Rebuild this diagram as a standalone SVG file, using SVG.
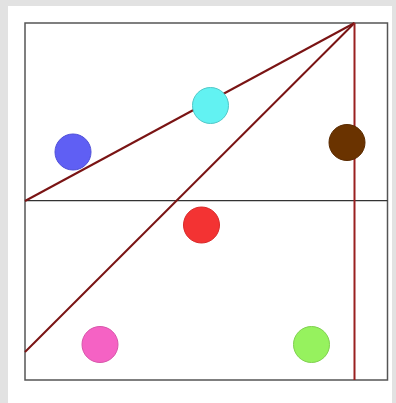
<svg xmlns="http://www.w3.org/2000/svg" width="396" height="403" viewBox="0 0 396 403">
<style>
.frame{fill:none;stroke:#555;stroke-width:1.5}
.axis{stroke:#333;stroke-width:1.2}
.ray{stroke:#7a1414;stroke-width:2;fill:none}
.vert{stroke:#9a2020;stroke-width:2}
.dot{stroke-width:1}
</style>
<rect x="0" y="0" width="396" height="403" fill="#e2e2e2"/>
<rect x="8" y="6" width="384" height="397" fill="#ffffff"/>
<rect class="frame" x="25" y="23" width="362.5" height="357"/>
<g id="connectors">
<line class="axis" x1="25" y1="200.7" x2="387.5" y2="200.7"/>
<line class="ray" x1="354.5" y1="23" x2="25" y2="201"/>
<line class="ray" x1="354.5" y1="23" x2="25" y2="352"/>
<line class="vert" x1="354.5" y1="23" x2="354.5" y2="380"/>
</g>
<g id="blue"><circle class="dot" cx="73" cy="152" r="18" fill="#5f5ff4" stroke="#5050d8"/></g>
<g id="cyan"><circle class="dot" cx="210.5" cy="105.5" r="18" fill="#62f2f2" stroke="#50c8c8"/></g>
<g id="brown"><circle class="dot" cx="347" cy="142.5" r="18" fill="#6a3300" stroke="#5a2a00"/></g>
<g id="red"><circle class="dot" cx="201.5" cy="225" r="18" fill="#f33333" stroke="#d82a2a"/></g>
<g id="pink"><circle class="dot" cx="100" cy="344.5" r="18" fill="#f562c4" stroke="#d855aa"/></g>
<g id="green"><circle class="dot" cx="311.5" cy="344.5" r="18" fill="#96f25e" stroke="#80d050"/></g>
</svg>
